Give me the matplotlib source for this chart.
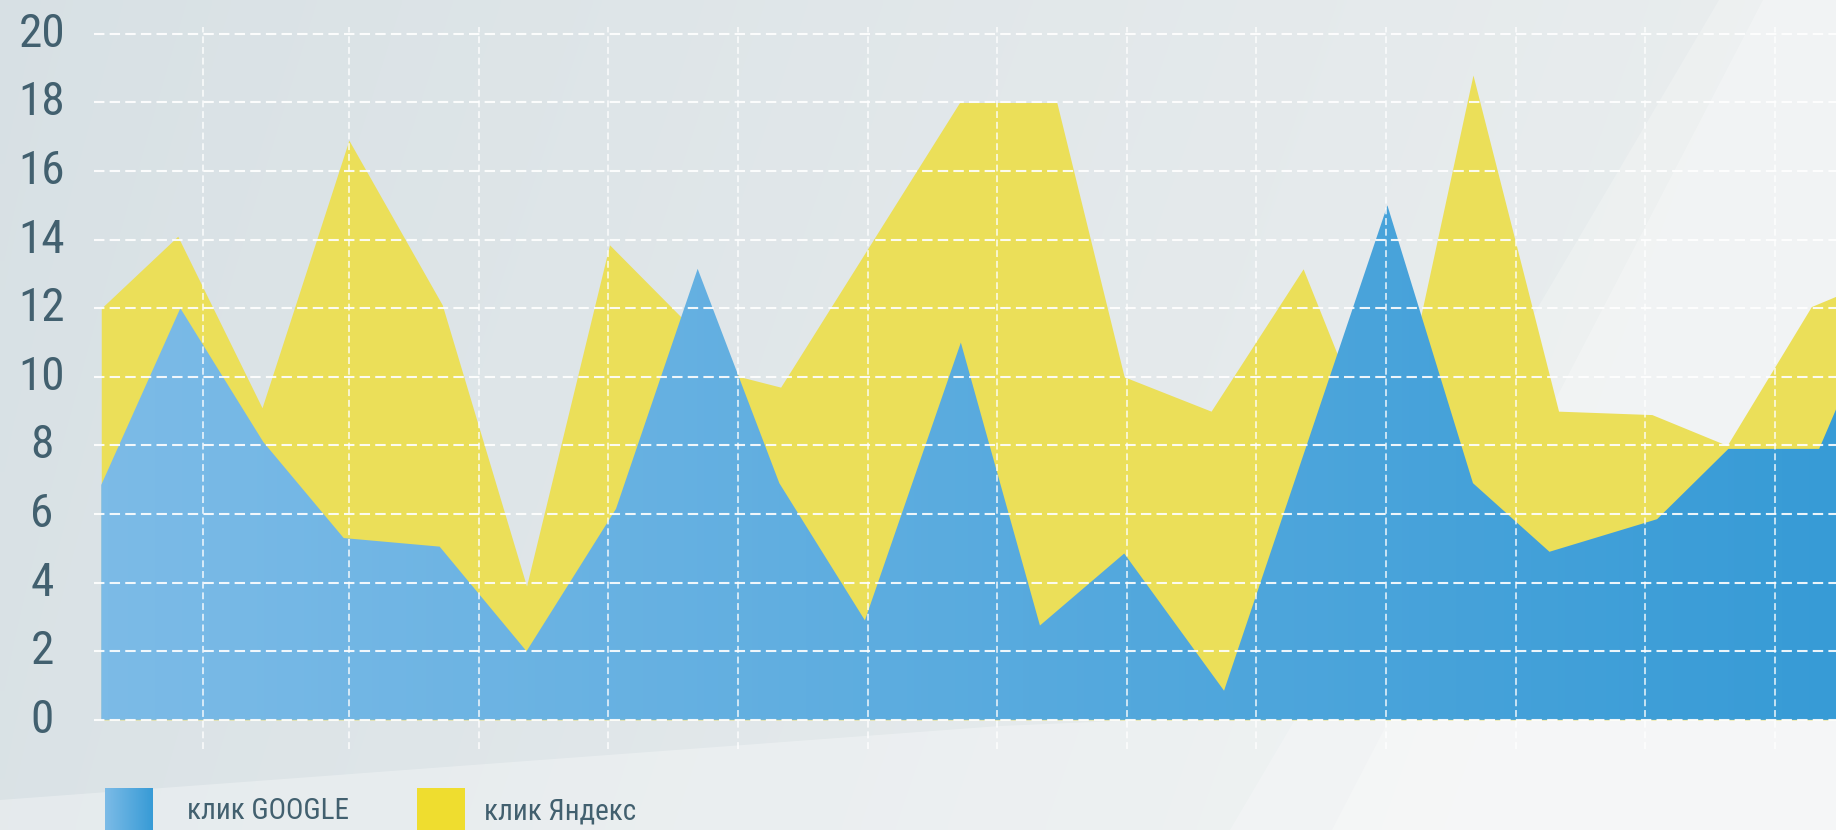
import numpy as np
import matplotlib.pyplot as plt
from matplotlib import font_manager
from matplotlib.colors import LinearSegmentedColormap
from matplotlib.patches import Polygon, Rectangle

# x in grid-step units (no labels on x axis), y = clicks
yandex_x = [-0.91, -0.32, 0.33, 1.00, 1.72, 2.37, 3.01, 4.02, 4.33, 5.71, 6.46,
            6.98, 7.65, 8.36, 9.00, 9.67, 10.33, 11.05, 11.63, 12.28, 12.47]
yandex_y = [12.0, 14.1, 9.1, 16.9, 12.1, 3.9, 13.85, 10.0, 9.7, 18.0, 18.0,
            10.0, 9.0, 13.15, 7.1, 18.8, 9.0, 8.9, 8.0, 12.05, 12.35]
google_x = [-0.91, -0.30, 0.34, 0.96, 1.70, 2.37, 3.06, 3.69, 4.32, 4.98, 5.72,
            6.33, 6.98, 7.75, 9.01, 9.67, 10.26, 11.09, 11.64, 12.34, 12.47]
google_y = [6.85, 12.0, 8.1, 5.3, 5.05, 2.0, 6.15, 13.15, 6.9, 2.9, 11.0,
            2.75, 4.85, 0.85, 15.0, 6.9, 4.9, 5.85, 7.9, 7.9, 9.05]
y_ticks = list(range(0, 21, 2))
labels = ['клик GOOGLE', 'клик Яндекс']

# pick a narrow font if there is one
names = {f.name for f in font_manager.fontManager.ttflist}
font = 'DejaVu Sans'
for fam in ['Roboto Condensed', 'Liberation Sans Narrow', 'DejaVu Sans Condensed', 'Roboto']:
    if fam in names:
        font = fam
        break
plt.rcParams['font.family'] = [font, 'DejaVu Sans']

W, H = 1836, 830
text_col = '#42606F'
yellow = '#EBDF59'
blue_cmap = LinearSegmentedColormap.from_list('g', ['#7CBBE7', '#379BD6'])

fig = plt.figure(figsize=(W / 100, H / 100), dpi=100)

# background
bg = fig.add_axes([0, 0, 1, 1])
bg.set_xlim(0, W)
bg.set_ylim(H, 0)
bg.axis('off')
gx = np.linspace(0, 1, 200)[None, :]
gy = np.linspace(0, 1, 100)[:, None]
c0 = np.array([0.845, 0.880, 0.896])
c1 = np.array([0.915, 0.930, 0.935])
mix = np.clip(gx ** 0.9 + 0.15 * gy, 0, 1)[..., None]
img = c0 * (1 - mix) + c1 * mix
bg.imshow(img, extent=[0, W, H, 0], aspect='auto', interpolation='bilinear')
bg.add_patch(Polygon([(1719, 0), (W, 0), (W, H), (1230, H)], color='white', alpha=0.22, lw=0))
bg.add_patch(Polygon([(1763, 0), (W, 0), (W, H), (1332, H)], color='white', alpha=0.25, lw=0))
bg.add_patch(Polygon([(0, 800), (1000, 726), (W, 690), (W, H), (0, H)], color='white', alpha=0.3, lw=0))

# chart
ax = fig.add_axes([94 / W, (H - 749) / H, (W - 94) / W, (749 - 27) / H])
ax.patch.set_alpha(0)

ax.fill_between(yandex_x, 0, yandex_y, color=yellow, lw=0, zorder=1)
poly = ax.fill_between(google_x, 0, google_y, facecolor='none', lw=0, zorder=2)
grad = np.linspace(0, 1, 256)[None, :]
im = ax.imshow(grad, extent=[yandex_x[0], yandex_x[-1], 0, 20], aspect='auto',
               cmap=blue_cmap, zorder=2)
im.set_clip_path(poly.get_paths()[0], transform=ax.transData)
ax.set_xlim(-0.966, 12.47)
ax.set_ylim(-0.85, 20.2)

for v in y_ticks:
    ax.axhline(v, color='white', lw=1.5, ls=(0, (5, 2.5)), alpha=0.9, zorder=3)
for k in [-0.125] + list(range(1, 13)):
    ax.axvline(k, color='white', lw=1.1, ls=(0, (4.5, 2.5)), alpha=0.9, zorder=3)

ax.set_xticks([])
ax.set_yticks([])
for s in ax.spines.values():
    s.set_visible(False)

# y labels, centred in the left margin
lab_x = (42 - 94) / (W - 94)
for v in y_ticks:
    ax.text(lab_x, v, str(v), transform=ax.get_yaxis_transform(), fontsize=34,
            color=text_col, ha='center', va='center')

# legend drawn by hand (squares run off the bottom edge)
lab = fig.add_axes([0, 0, 1, 1])
lab.axis('off')
lab.imshow(grad, extent=[105, 153, 835, 788], aspect='auto', cmap=blue_cmap)
lab.add_patch(Rectangle((417, 788), 48, 47, color='#EFDD2F', lw=0))
lab.text(187, 811, labels[0], fontsize=21, color=text_col, va='center', ha='left')
lab.text(484, 811, labels[1], fontsize=21, color=text_col, va='center', ha='left')
lab.set_xlim(0, W)
lab.set_ylim(H, 0)

fig.savefig('out.png', dpi=100)
